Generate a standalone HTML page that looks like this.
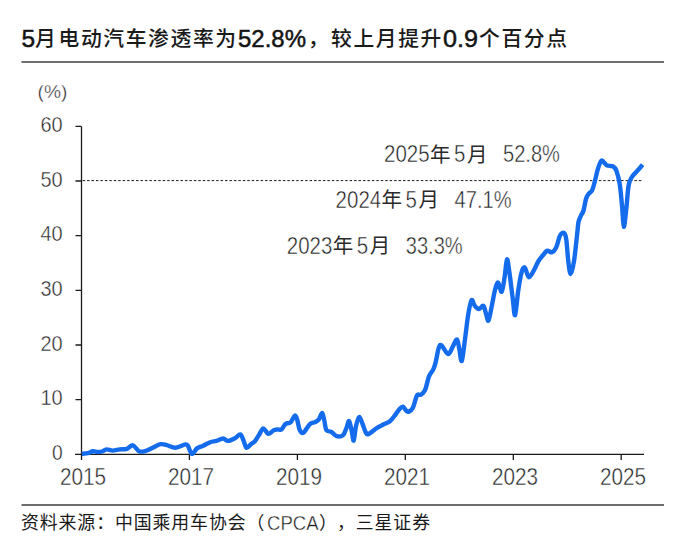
<!DOCTYPE html>
<html><head><meta charset="utf-8">
<style>
html,body{margin:0;padding:0;background:#fff;}
body{width:680px;height:556px;overflow:hidden;position:relative;}
svg{position:absolute;left:0;top:0;}
text{font-family:"Liberation Sans","Noto Sans CJK SC",sans-serif;}
.t{font-size:20.8px;letter-spacing:1.6px;fill:#1a1a1a;font-weight:500;}
.tb{font-size:24.5px;fill:#141414;font-weight:normal;stroke:#141414;stroke-width:0.5px;}
.ax{font-size:23.2px;fill:#222;stroke:#fff;stroke-width:0.45px;}
.ay{font-size:22.5px;fill:#222;stroke:#fff;stroke-width:0.45px;}
.pc{font-size:19.2px;fill:#222;stroke:#fff;stroke-width:0.4px;}
.an{font-size:23.2px;fill:#1c1c1c;stroke:#fff;stroke-width:0.45px;}
.ac{font-size:20.5px;fill:#2a2a2a;}
.src{font-size:17.9px;letter-spacing:0.9px;fill:#1a1a1a;}
.srcl{font-size:19.5px;fill:#1a1a1a;stroke:#fff;stroke-width:0.4px;}
</style></head><body>
<svg width="680" height="556" viewBox="0 0 680 556">
<text id="t1" class="tb" x="21.5" y="47.4">5</text>
<text id="t2" class="t" x="35" y="46.2">月</text>
<text id="t3" class="t" x="58.5" y="46.2">电动汽车渗透率为</text>
<text id="t4" class="tb" x="238" y="47.3" textLength="68" lengthAdjust="spacingAndGlyphs">52.8%</text>
<text id="t5" class="t" x="308" y="46.2">，</text>
<text id="t6" class="t" x="331" y="46.2">较上月提升</text>
<text id="t7" class="tb" x="443" y="47.3" textLength="35" lengthAdjust="spacingAndGlyphs">0.9</text>
<text id="t8" class="t" x="479" y="46.2">个百分点</text>
<rect x="21.5" y="61" width="642.5" height="2" fill="#6e6e6e"/>
<text id="pc" class="pc" x="37.5" y="98.3">(%)</text>
<g class="ay" text-anchor="end">
<text id="y60" x="62.6" y="132.1" textLength="22.2" lengthAdjust="spacingAndGlyphs">60</text>
<text x="62.6" y="186.8" textLength="22.2" lengthAdjust="spacingAndGlyphs">50</text>
<text x="62.6" y="241.4" textLength="22.2" lengthAdjust="spacingAndGlyphs">40</text>
<text x="62.6" y="296.1" textLength="22.2" lengthAdjust="spacingAndGlyphs">30</text>
<text x="62.6" y="350.7" textLength="22.2" lengthAdjust="spacingAndGlyphs">20</text>
<text id="y10" x="62.6" y="405.4" textLength="22.2" lengthAdjust="spacingAndGlyphs">10</text>
<text id="y0" x="62.6" y="460.3" textLength="10.7" lengthAdjust="spacingAndGlyphs">0</text>
</g>
<g class="ax" text-anchor="middle">
<text id="x15" x="83" y="485" textLength="46" lengthAdjust="spacingAndGlyphs">2015</text>
<text id="x17" x="191" y="485" textLength="46" lengthAdjust="spacingAndGlyphs">2017</text>
<text x="299" y="485" textLength="46" lengthAdjust="spacingAndGlyphs">2019</text>
<text x="407" y="485" textLength="46" lengthAdjust="spacingAndGlyphs">2021</text>
<text x="515" y="485" textLength="46" lengthAdjust="spacingAndGlyphs">2023</text>
<text id="x25" x="623" y="485" textLength="46" lengthAdjust="spacingAndGlyphs">2025</text>
</g>
<g stroke="#1a1a1a" stroke-width="1.3" fill="none">
<path d="M81.5 126.4 V460"/>
<path d="M75 454.3 H644"/>
<path d="M75.5 126.4 H81.5 M75.5 181 H81.5 M75.5 235.7 H81.5 M75.5 290.4 H81.5 M75.5 345 H81.5 M75.5 399.7 H81.5"/>
<path d="M189.4 454.3 V460 M297.4 454.3 V460 M405.3 454.3 V460 M513.3 454.3 V460 M621.2 454.3 V460"/>
</g>
<path d="M82.6 180.6 H642" stroke="#1a1a1a" stroke-width="1" stroke-dasharray="2.5 1.95"/>
<path d="M81.8 453.9 C82.83 453.77 86.17 453.53 88 453.1 C89.83 452.67 91.2 451.48 92.8 451.3 C94.4 451.12 96.07 451.97 97.6 452 C99.13 452.03 100.52 451.93 102 451.5 C103.48 451.07 104.72 449.55 106.5 449.4 C108.28 449.25 110.5 450.6 112.7 450.6 C114.9 450.6 117.35 449.7 119.7 449.4 C122.05 449.1 124.58 449.48 126.8 448.8 C129.02 448.12 130.97 444.88 133 445.3 C135.03 445.72 136.9 450.37 139 451.3 C141.1 452.23 143.32 451.5 145.6 450.9 C147.88 450.3 150.2 448.82 152.7 447.7 C155.2 446.58 158.25 444.63 160.6 444.2 C162.95 443.77 164.3 444.52 166.8 445.1 C169.3 445.68 172.52 447.82 175.6 447.7 C178.68 447.58 183.23 444.68 185.3 444.4 C187.37 444.12 186.9 444.42 188 446 C189.1 447.58 190.4 453.5 191.9 453.9 C193.4 454.3 195.12 449.77 197 448.4 C198.88 447.03 200.98 446.73 203.2 445.7 C205.42 444.67 208.08 443 210.3 442.2 C212.52 441.4 214.37 441.52 216.5 440.9 C218.63 440.28 221.18 438.5 223.1 438.5 C225.02 438.5 226.02 440.95 228 440.9 C229.98 440.85 232.95 439.28 235 438.2 C237.05 437.12 238.83 433.88 240.3 434.4 C241.77 434.92 242.77 439.05 243.8 441.3 C244.83 443.55 245.32 447.42 246.5 447.9 C247.68 448.38 249.5 445.32 250.9 444.2 C252.3 443.08 253.58 442.68 254.9 441.2 C256.22 439.72 257.4 437.43 258.8 435.3 C260.2 433.17 261.73 428.65 263.3 428.4 C264.87 428.15 266.47 433.48 268.2 433.8 C269.93 434.12 272.13 431.03 273.7 430.3 C275.27 429.57 276.28 429.55 277.6 429.4 C278.92 429.25 280.28 430.32 281.6 429.4 C282.92 428.48 284.02 425.07 285.5 423.9 C286.98 422.73 288.93 423.8 290.5 422.4 C292.07 421 293.75 415.82 294.9 415.5 C296.05 415.18 296.58 418.03 297.4 420.5 C298.22 422.97 298.78 428.28 299.8 430.3 C300.82 432.32 301.85 433.6 303.5 432.6 C305.15 431.6 307.77 426.05 309.7 424.3 C311.63 422.55 313.57 422.92 315.1 422.1 C316.63 421.28 317.73 420.92 318.9 419.4 C320.07 417.88 321.2 412.82 322.1 413 C323 413.18 323.58 417.63 324.3 420.5 C325.02 423.37 325.23 428.32 326.4 430.2 C327.57 432.08 329.58 430.8 331.3 431.8 C333.02 432.8 334.73 435.65 336.7 436.2 C338.67 436.75 341.48 436.45 343.1 435.1 C344.72 433.75 345.4 430.43 346.4 428.1 C347.4 425.77 348.2 420.57 349.1 421.1 C350 421.63 351.03 428.05 351.8 431.3 C352.57 434.55 353.02 441.37 353.7 440.6 C354.38 439.83 355.02 430.62 355.9 426.7 C356.78 422.78 357.92 417.63 359 417.1 C360.08 416.57 361.3 421 362.4 423.5 C363.5 426 364.62 430.32 365.6 432.1 C366.58 433.88 366.4 434.92 368.3 434.2 C370.2 433.48 374.48 429.42 377 427.8 C379.52 426.18 381.25 425.58 383.4 424.5 C385.55 423.42 387.92 422.92 389.9 421.3 C391.88 419.68 393.68 416.87 395.3 414.8 C396.92 412.73 398.32 410.25 399.6 408.9 C400.88 407.55 401.92 406.43 403 406.7 C404.08 406.97 405.12 409.68 406.1 410.5 C407.08 411.32 407.77 412.07 408.9 411.6 C410.03 411.13 411.55 410.38 412.9 407.7 C414.25 405.02 415.65 397.67 417 395.5 C418.35 393.33 419.65 395.63 421 394.7 C422.35 393.77 423.75 393 425.1 389.9 C426.45 386.8 427.75 379.48 429.1 376.1 C430.45 372.72 432.12 371.88 433.2 369.6 C434.28 367.32 434.67 366.03 435.6 362.4 C436.53 358.77 437.82 350.63 438.8 347.8 C439.78 344.97 439.93 344.37 441.5 345.4 C443.07 346.43 446.3 353.85 448.2 354 C450.1 354.15 451.43 348.72 452.9 346.3 C454.37 343.88 455.92 338.95 457 339.5 C458.08 340.05 458.6 346.03 459.4 349.6 C460.2 353.17 460.85 362.78 461.8 360.9 C462.75 359.02 464.02 346.12 465.1 338.3 C466.18 330.48 467.22 320.35 468.3 314 C469.38 307.65 470.52 301.55 471.6 300.2 C472.68 298.85 473.6 304.42 474.8 305.9 C476 307.38 477.37 309.1 478.8 309.1 C480.23 309.1 482.18 305.08 483.4 305.9 C484.62 306.72 485.25 311.57 486.1 314 C486.95 316.43 487.55 321.85 488.5 320.5 C489.45 319.15 490.72 310.98 491.8 305.9 C492.88 300.82 493.93 293.88 495 290 C496.07 286.12 497.08 282.3 498.2 282.6 C499.32 282.9 500.63 292.7 501.7 291.8 C502.77 290.9 503.72 282.6 504.6 277.2 C505.48 271.8 506.2 260.2 507 259.4 C507.8 258.6 508.45 265.92 509.4 272.4 C510.35 278.88 511.75 291.17 512.7 298.3 C513.65 305.43 514.17 316.55 515.1 315.2 C516.03 313.85 517.22 297.33 518.3 290.2 C519.38 283.07 520.52 276.18 521.6 272.4 C522.68 268.62 523.6 266.7 524.8 267.5 C526 268.3 527.32 276.67 528.8 277.2 C530.28 277.73 532.08 273.4 533.7 270.7 C535.32 268 536.75 263.82 538.5 261 C540.25 258.18 542.73 255.52 544.2 253.8 C545.67 252.08 545.98 250.95 547.3 250.7 C548.62 250.45 550.62 252.85 552.1 252.3 C553.58 251.75 554.95 250.03 556.2 247.4 C557.45 244.77 558.63 238.87 559.6 236.5 C560.57 234.13 561.17 233.68 562 233.2 C562.83 232.72 563.88 232.55 564.6 233.6 C565.32 234.65 565.68 234.9 566.3 239.5 C566.92 244.1 567.57 255.43 568.3 261.2 C569.03 266.97 569.75 274.1 570.7 274.1 C571.65 274.1 572.92 267.93 574 261.2 C575.08 254.47 576.45 240.23 577.2 233.7 C577.95 227.17 577.87 225.03 578.5 222 C579.13 218.97 580.17 217.42 581 215.5 C581.83 213.58 582.67 213.25 583.5 210.5 C584.33 207.75 585.17 201.75 586 199 C586.83 196.25 587.5 195.42 588.5 194 C589.5 192.58 590.98 192.45 592 190.5 C593.02 188.55 593.63 185.83 594.6 182.3 C595.57 178.77 596.68 172.88 597.8 169.3 C598.92 165.72 600.22 161.88 601.3 160.8 C602.38 159.72 603.35 162.02 604.3 162.8 C605.25 163.58 605.52 164.88 607 165.5 C608.48 166.12 611.62 165.6 613.2 166.5 C614.78 167.4 615.42 168 616.5 170.9 C617.58 173.8 618.77 177.95 619.7 183.9 C620.63 189.85 621.42 199.45 622.1 206.6 C622.78 213.75 623.12 226.27 623.8 226.8 C624.48 227.33 625.4 216.68 626.2 209.8 C627 202.92 627.65 190.97 628.6 185.5 C629.55 180.03 630.55 179.33 631.9 177 C633.25 174.67 634.92 173.53 636.7 171.5 C638.48 169.47 641.62 165.92 642.6 164.8" fill="none" stroke="#146cec" stroke-width="4.4" stroke-linejoin="round" stroke-linecap="butt"/>
<g id="ann25">
<text class="an" x="384" y="162" textLength="45.6" lengthAdjust="spacingAndGlyphs">2025</text>
<text class="ac" x="430" y="161.8">年</text>
<text class="an" x="454" y="162" textLength="11.4" lengthAdjust="spacingAndGlyphs">5</text>
<text class="ac" x="467" y="161.8">月</text>
<text class="an" x="503" y="162" textLength="56.9" lengthAdjust="spacingAndGlyphs">52.8%</text>
</g>
<g id="ann24" transform="translate(-48.4 45.6)">
<text class="an" x="384" y="162" textLength="45.6" lengthAdjust="spacingAndGlyphs">2024</text>
<text class="ac" x="430" y="161.8">年</text>
<text class="an" x="454" y="162" textLength="11.4" lengthAdjust="spacingAndGlyphs">5</text>
<text class="ac" x="467" y="161.8">月</text>
<text class="an" x="503" y="162" textLength="56.9" lengthAdjust="spacingAndGlyphs">47.1%</text>
</g>
<g id="ann23" transform="translate(-97.2 91.5)">
<text class="an" x="384" y="162" textLength="45.6" lengthAdjust="spacingAndGlyphs">2023</text>
<text class="ac" x="430" y="161.8">年</text>
<text class="an" x="454" y="162" textLength="11.4" lengthAdjust="spacingAndGlyphs">5</text>
<text class="ac" x="467" y="161.8">月</text>
<text class="an" x="503" y="162" textLength="56.9" lengthAdjust="spacingAndGlyphs">33.3%</text>
</g>
<rect x="21.5" y="504" width="642.5" height="2" fill="#6e6e6e"/>
<text id="s1" class="src" x="21" y="529">资料来源：中国乘用车协会（</text>
<text id="s2" class="srcl" x="267" y="529.5" textLength="51.5" lengthAdjust="spacingAndGlyphs">CPCA</text>
<text id="s3" class="src" x="319" y="529">）</text>
<text id="s4" class="src" x="337" y="529">，三星证券</text>
</svg>
</body></html>
